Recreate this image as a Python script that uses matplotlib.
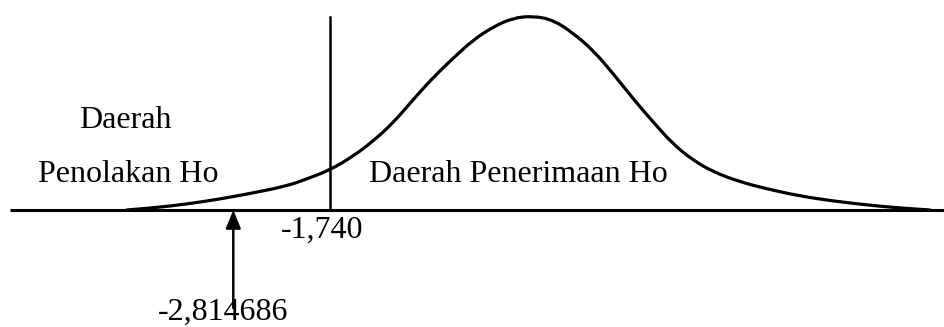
import matplotlib.pyplot as plt
from matplotlib.path import Path
from matplotlib.patches import PathPatch

# t-value positions along the axis and the drawn curve height
curve_t = [-4.00, -3.71, -3.33, -2.96, -2.60, -2.22, -2.00, -1.74, -1.48, -1.26,
           -1.04, -0.82, -0.60, -0.37, -0.15, 0.07, 0.29, 0.52, 0.74, 0.96,
           1.18, 1.40, 1.63, 1.85, 2.07, 2.29, 2.52, 2.82, 3.12, 3.48,
           3.85, 4.23, 4.59, 4.93]
curve_h = [0, 2, 6, 11, 17, 24, 31, 40, 54, 69,
           87, 110, 132, 152, 170, 183, 192, 194, 190, 177,
           160, 137, 111, 88, 66, 50, 38, 28, 21, 14,
           9, 5, 2, 0]

t_crit = -1.740
t_stat = -2.814686
crit_label = "-1,740"
stat_label = "-2,814686"

plt.rcParams['font.family'] = ['Liberation Serif', 'DejaVu Serif']

fig = plt.figure(figsize=(9.45, 3.27), dpi=100)
ax = fig.add_axes([0, 0, 1, 1])
ax.set_xlim(-5.407, 5.093)
ax.set_ylim(-117, 210)
ax.axis("off")

# baseline
ax.plot([-5.296, 5.093], [0, 0], color='black', lw=2.2, solid_capstyle='butt')

# curve, drawn as a smooth quadratic bezier through the read points
pts = list(zip(curve_t, curve_h))
verts = [pts[0]]
codes = [Path.MOVETO]
for i in range(1, len(pts) - 1):
    mid = ((pts[i][0] + pts[i + 1][0]) / 2, (pts[i][1] + pts[i + 1][1]) / 2)
    verts += [pts[i], mid]
    codes += [Path.CURVE3, Path.CURVE3]
verts.append(pts[-1])
codes.append(Path.LINETO)
ax.add_patch(PathPatch(Path(verts, codes), facecolor='none', edgecolor='black',
                       lw=2.3, capstyle='round', joinstyle='round'))

# critical value line
ax.plot([t_crit, t_crit], [0, 193], color='black', lw=1.8)
# test statistic arrow
ax.annotate("", xy=(t_stat, 0), xytext=(t_stat, -98),
            arrowprops=dict(arrowstyle='-|>,head_length=1.1,head_width=0.45',
                            color='black', lw=1.8, shrinkA=0, shrinkB=0))

fs = 23
ax.text(-4.02, 90, "Daerah", fontsize=fs, ha='center', va='center')
ax.text(-3.98, 35, "Penolakan Ho", fontsize=fs, ha='center', va='center')
ax.text(0.35, 35, "Daerah Penerimaan Ho", fontsize=fs, ha='center', va='center')
ax.text(-1.83, -20, crit_label, fontsize=fs, ha='center', va='center')
ax.text(-2.93, -102, stat_label, fontsize=fs, ha='center', va='center')

fig.savefig("out.png", dpi=100)
